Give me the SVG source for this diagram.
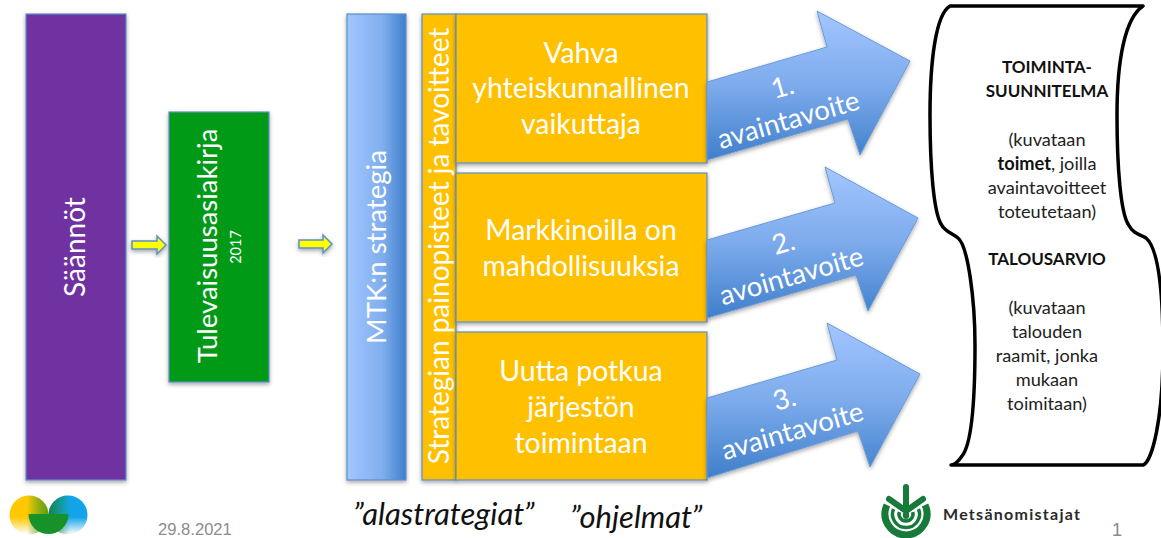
<svg xmlns="http://www.w3.org/2000/svg" width="1161" height="538" viewBox="0 0 1161 538">
<style>
text{font-family:Lato,"Liberation Sans",sans-serif}
.w{fill:#fff;text-anchor:middle}
.box{stroke:#5b8fc9;stroke-width:1.2}
.b{font-size:28.400px}
.o{fill:#ffc000;stroke:#5b8fc9;stroke-width:1.2}
.ya{fill:#ffff00;stroke:#5b8fc9;stroke-width:1.5}
.ar{fill:url(#ag);stroke:#6a9bd8;stroke-width:1}
.at{font-size:27.500px}
.d{font-size:18.200px;fill:#222;text-anchor:middle}
.db{font-weight:700;fill:#111}
.h{font-size:17px}
.q{font-size:31px;font-style:italic;fill:#111}
.g{font-family:"Liberation Sans",sans-serif;fill:#8c8c8c}
</style>
<defs>
<filter id="s" x="-20%" y="-20%" width="140%" height="140%"><feDropShadow dx="0" dy="2" stdDeviation="2" flood-color="#000" flood-opacity=".35"/></filter>
<linearGradient id="ag" x1="0" y1="0" x2="0" y2="1"><stop offset="0" stop-color="#a3c6ff"/><stop offset=".5" stop-color="#7dabec"/><stop offset="1" stop-color="#3f7fcb"/></linearGradient>
<linearGradient id="hg" x1="0" y1="0" x2="1" y2="0"><stop offset="0" stop-color="#a3c6ff"/><stop offset=".6" stop-color="#80aeee"/><stop offset="1" stop-color="#3f7fcb"/></linearGradient>
<linearGradient id="ly" x1="0" y1="0" x2="0" y2="1"><stop offset=".55" stop-color="#ffc800"/><stop offset="1" stop-color="#fff"/></linearGradient>
<linearGradient id="lb" x1="0" y1="0" x2="0" y2="1"><stop offset=".55" stop-color="#12a3e8"/><stop offset="1" stop-color="#fff"/></linearGradient>
<linearGradient id="lg1" x1="0" y1="0" x2="1" y2="0"><stop offset=".45" stop-color="#17922a" stop-opacity="0"/><stop offset="1" stop-color="#5f9f10"/></linearGradient>
<linearGradient id="lg2" x1="1" y1="0" x2="0" y2="0"><stop offset=".45" stop-color="#17922a" stop-opacity="0"/><stop offset="1" stop-color="#17824f"/></linearGradient>
<clipPath id="page"><rect width="1161" height="538"/></clipPath>
</defs>

<g id="saannot"><rect class="box" x="26" y="14" width="100" height="466" fill="#7030a0" filter="url(#s)"/><text class="w" font-size="28" transform="translate(85 247) rotate(-90)">Säännöt</text></g>

<g id="tulevaisuus"><rect class="box" x="169" y="112" width="100" height="270" fill="#059a16" filter="url(#s)"/><text class="w" font-size="27.500" transform="translate(217 246) rotate(-90)">Tulevaisuusasiakirja</text><text class="w" font-size="14.500" transform="translate(241 247) rotate(-90)">2017</text></g>

<g id="mtk"><rect class="box" x="347" y="14" width="59" height="466" fill="url(#hg)" filter="url(#s)"/><text class="w" font-size="27.600" transform="translate(386 247) rotate(-90)">MTK:n strategia</text></g>

<g id="painopisteet"><rect class="o" x="422" y="14" width="34" height="466" filter="url(#s)"/><text class="w" font-size="28" transform="translate(449 246) rotate(-90)">Strategian painopisteet ja tavoitteet</text></g>

<g id="vaikuttaja"><rect class="o" x="456" y="14" width="251" height="149" filter="url(#s)"/><text class="w b" x="581" y="63">Vahva</text><text class="w b" x="581" y="98">yhteiskunnallinen</text><text class="w b" x="581" y="134">vaikuttaja</text></g>
<g id="markkinat"><rect class="o" x="456" y="173" width="251" height="149" filter="url(#s)"/><text class="w b" x="581" y="240">Markkinoilla on</text><text class="w b" x="581" y="276">mahdollisuuksia</text></g>
<g id="potkua"><rect class="o" x="456" y="332" width="251" height="148" filter="url(#s)"/><text class="w b" x="581" y="381">Uutta potkua</text><text class="w b" x="581" y="417">järjestön</text><text class="w b" x="581" y="453">toimintaan</text></g>

<g id="connectors">
<path class="ya" filter="url(#s)" d="M132 241H157V236L166 245L157 254V249H132Z"/>
<path class="ya" filter="url(#s)" d="M299 240H323V235L332 244L323 253V248H299Z"/>
<path class="ar" filter="url(#s)" d="M707 82L827 47L817 11L910 61L860 155L848 119L707 160Z"/>
<path class="ar" filter="url(#s)" d="M707 240L835 203L825 167L918 218L868 311L856 275L707 318Z"/>
<path class="ar" filter="url(#s)" d="M707 398L837 360L827 323L920 374L870 467L858 431L707 478Z"/>
</g>

<g id="avain1"><text class="w at" transform="translate(785 96) rotate(-16)">1.</text><text class="w at" transform="translate(791 129) rotate(-16)">avaintavoite</text></g>
<g id="avain2"><text class="w at" transform="translate(786 252) rotate(-16)">2.</text><text class="w at" transform="translate(794 285) rotate(-16)">avointavoite</text></g>
<g id="avain3"><text class="w at" transform="translate(787 408) rotate(-16)">3.</text><text class="w at" transform="translate(795 440) rotate(-16)">avaintavoite</text></g>

<g id="dokumentti" clip-path="url(#page)">
<path fill="#fff" stroke="#000" stroke-width="3.500" stroke-linejoin="round" d="M1143 6H950C936 14 930 60 930 115C930 170 934 212 941 224C945 232 952 233 958 238C968 246 975 300 975 345C975 400 972 444 962 456C958 462 955 465 951 465H1143C1152 462 1163 420 1163 350C1163 290 1158 248 1146 238C1140 234 1134 235 1128 224C1121 212 1117 170 1117 115C1117 60 1125 18 1143 6Z"/>
<text class="d db h" x="1047" y="73">TOIMINTA-</text>
<text class="d db h" x="1047" y="97">SUUNNITELMA</text>
<text class="d" x="1047" y="146">(kuvataan</text>
<text class="d" x="1047" y="170"><tspan class="db">toimet</tspan>, joilla</text>
<text class="d" x="1047" y="194">avaintavoitteet</text>
<text class="d" x="1047" y="218">toteutetaan)</text>
<text class="d db h" x="1047" y="265">TALOUSARVIO</text>
<text class="d" x="1047" y="314">(kuvataan</text>
<text class="d" x="1047" y="338">talouden</text>
<text class="d" x="1047" y="362">raamit, jonka</text>
<text class="d" x="1047" y="386">mukaan</text>
<text class="d" x="1047" y="410">toimitaan)</text>
</g>

<g id="alastrategiat"><text class="q" x="353" y="525">”alastrategiat”</text></g>
<g id="ohjelmat"><text class="q" x="570" y="528">”ohjelmat”</text></g>
<g id="paivays"><text class="g" x="158" y="535" font-size="16.600">29.8.2021</text></g>
<g id="sivu"><text class="g" x="1112" y="536" font-size="18">1</text></g>

<g id="logo-vasen">
<circle cx="29" cy="515" r="19.500" fill="url(#ly)"/>
<circle cx="68" cy="515" r="19.500" fill="url(#lb)"/>
<circle cx="29" cy="515" r="19.500" fill="url(#lg1)"/>
<circle cx="68" cy="515" r="19.500" fill="url(#lg2)"/>
<path d="M28.500 514A20 20 0 0 0 68.500 514L48.500 514Z" fill="#17922a"/>
</g>

<g id="logo-mets">
<g fill="none" stroke="#17793a">
<path stroke-width="7" d="M887 505A21 21 0 1 0 925 505"/>
<path stroke-width="3.500" d="M893.500 509A13.500 13.500 0 1 0 918.500 509"/>
<path stroke-width="3.500" d="M899.300 512A7 7 0 1 0 912.700 512"/>
</g>
<path d="M906 487V516M889 499L906 511L923 499" fill="none" stroke="#17793a" stroke-width="6" stroke-linecap="round" stroke-linejoin="round"/>
<text x="943" y="520" font-size="16" font-weight="700" fill="#2a2a2a" textLength="137">Metsänomistajat</text>
</g>
</svg>
